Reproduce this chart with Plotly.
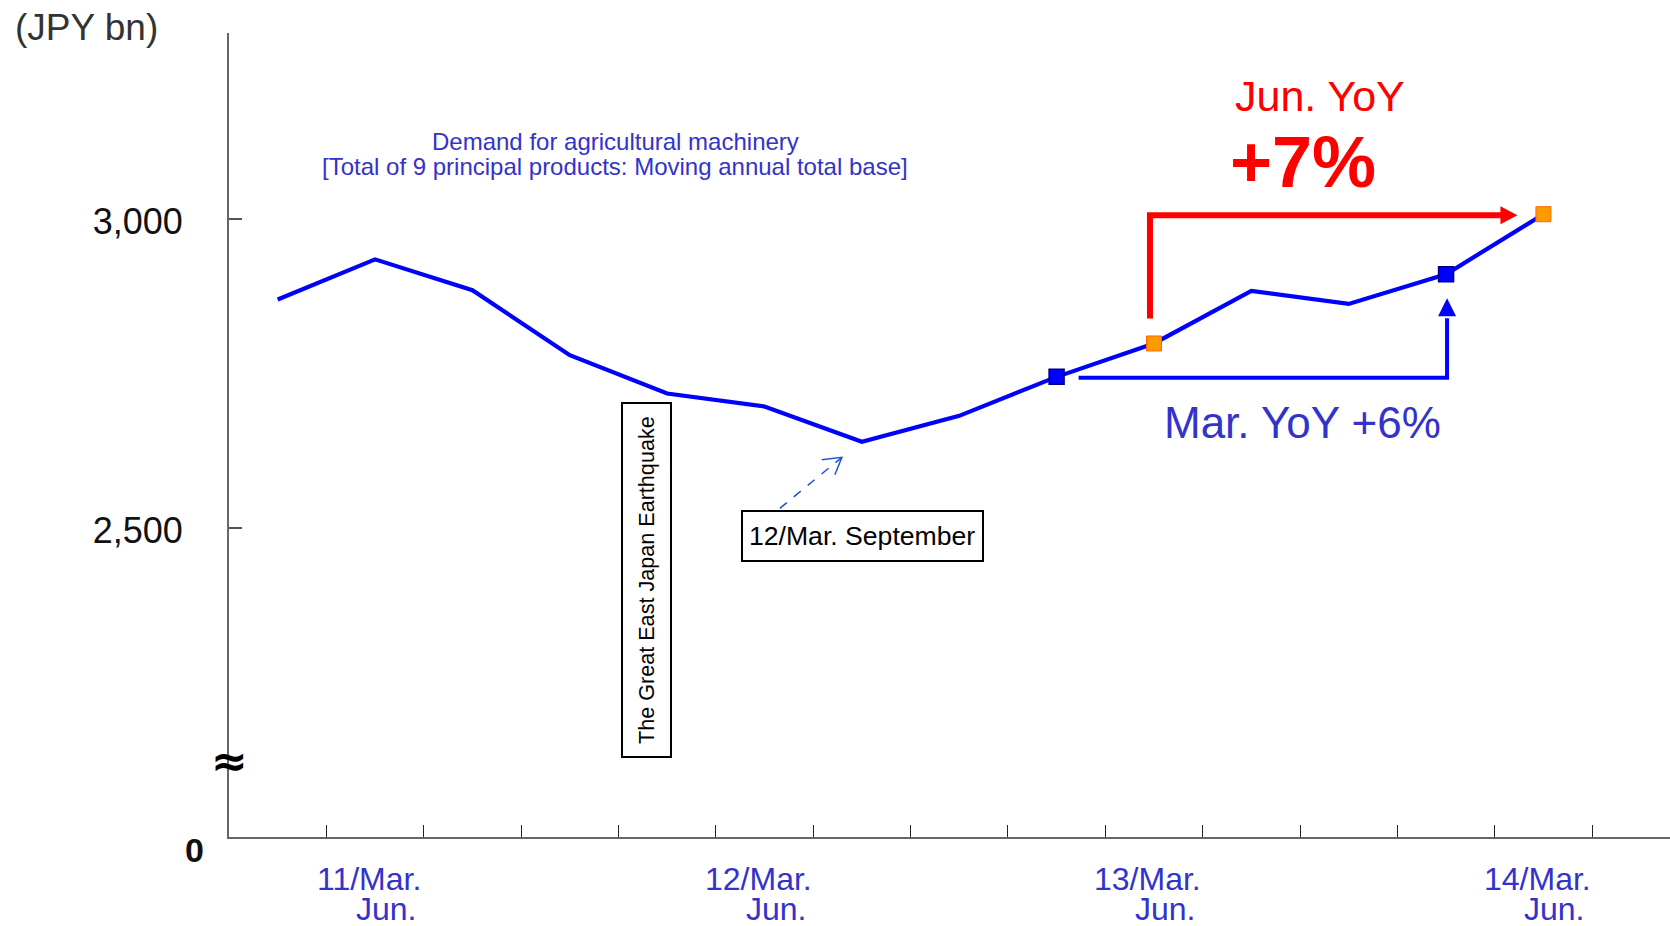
import plotly.graph_objects as go

# Demand for agricultural machinery, moving annual total (JPY bn), quarterly
quarters = ["11/Mar", "11/Jun", "11/Sep", "11/Dec",
            "12/Mar", "12/Jun", "12/Sep", "12/Dec",
            "13/Mar", "13/Jun", "13/Sep", "13/Dec",
            "14/Mar", "14/Jun"]
demand = [2869, 2934, 2884, 2779, 2717, 2696, 2639, 2681,
          2744, 2798, 2883, 2862, 2910, 3007]
year_labels = ["11", "12", "13", "14"]
y_tick_vals = [2000, 2500, 3000]
y_tick_text = ["", "2,500", "3,000"]
mar_points = [8, 12]      # 13/Mar, 14/Mar
jun_points = [9, 13]      # 13/Jun, 14/Jun
low_point = 6             # 12/Sep

FONT = "Liberation Sans, Arial, sans-serif"
BLUE_TXT = "#3333CC"
W, H = 1670, 926
L, T, B = 229, 33, 89
PW, PH = W - L, H - T - B
X_RANGE = [0, 14.8]
Y_RANGE = [2000, 3300]
XPX = PW / (X_RANGE[1] - X_RANGE[0])
YPX = PH / (Y_RANGE[1] - Y_RANGE[0])
PLOT_BOTTOM = H - B

pos = [i + 0.5 for i in range(len(quarters))]


def xp(px):
    return (px - L) / PW


def yp(py):
    return (PLOT_BOTTOM - py) / PH


def at(i, ox=0.0, oy=0.0):
    """Point i shifted by ox px right and oy px down, in data units."""
    return pos[i] + ox / XPX, demand[i] - oy / YPX


fig = go.Figure()

fig.add_trace(go.Scatter(
    x=pos, y=demand, mode="lines",
    line=dict(color="#0000FF", width=4.2),
    hoverinfo="skip",
))
fig.add_trace(go.Scatter(
    x=[pos[i] for i in mar_points], y=[demand[i] for i in mar_points],
    mode="markers",
    marker=dict(symbol="square", size=15, color="#0000FF",
                line=dict(color="#000080", width=1.5)),
))
fig.add_trace(go.Scatter(
    x=[pos[i] for i in jun_points], y=[demand[i] for i in jun_points],
    mode="markers",
    marker=dict(symbol="square", size=15, color="#FF9900",
                line=dict(color="#FF6600", width=1)),
))

shapes = []

# Red bracket: 13/Jun -> 14/Jun
j0, j1 = jun_points
rx, rbot = at(j0, -4, -25)
_, rtop = at(j1, 0, 1)
r_base, _ = at(j1, -43, 0)
r_tip, _ = at(j1, -26, 0)
shapes.append(dict(type="path", xref="x", yref="y",
                   path=f"M{rx},{rbot} L{rx},{rtop} L{r_base + 2 / XPX},{rtop}",
                   line=dict(color="#FF0000", width=6)))
shapes.append(dict(type="path", xref="x", yref="y",
                   path=(f"M{r_base},{rtop + 9 / YPX} L{r_tip},{rtop} "
                         f"L{r_base},{rtop - 9 / YPX} Z"),
                   fillcolor="#FF0000", line=dict(width=0)))

# Blue bracket: 13/Mar -> 14/Mar
m0, m1 = mar_points
bx0, by = at(m0, 22, 1)
bx1, _ = at(m1, 1, 0)
_, b_base = at(m1, 0, 42)
_, b_tip = at(m1, 0, 24)
shapes.append(dict(type="path", xref="x", yref="y",
                   path=f"M{bx0},{by} L{bx1},{by} L{bx1},{b_base - 2 / YPX}",
                   line=dict(color="#0000FF", width=4)))
shapes.append(dict(type="path", xref="x", yref="y",
                   path=(f"M{bx1 - 9 / XPX},{b_base} L{bx1},{b_tip} "
                         f"L{bx1 + 9 / XPX},{b_base} Z"),
                   fillcolor="#0000FF", line=dict(width=0)))

# Dashed pointer to the 12/Sep trough
sx, sy = at(low_point, -82, 66.5)
tx, ty = at(low_point, -20, 15.5)
a1x, a1y = at(low_point, -40, 18)
a2x, a2y = at(low_point, -27, 33)
shapes.append(dict(type="line", xref="x", yref="y", x0=sx, y0=sy, x1=tx, y1=ty,
                   line=dict(color="#2050E0", width=1.5, dash="dash")))
shapes.append(dict(type="path", xref="x", yref="y",
                   path=f"M{a1x},{a1y} L{tx},{ty} L{a2x},{a2y}",
                   line=dict(color="#2050E0", width=1.5)))

# Boxes around the two notes
shapes.append(dict(type="rect", xref="paper", yref="paper",
                   x0=xp(622), x1=xp(671), y0=yp(757), y1=yp(403),
                   line=dict(color="#000000", width=2), fillcolor="rgba(0,0,0,0)"))
shapes.append(dict(type="rect", xref="paper", yref="paper",
                   x0=xp(742), x1=xp(983), y0=yp(561), y1=yp(511),
                   line=dict(color="#000000", width=2), fillcolor="rgba(0,0,0,0)"))

annotations = []


def text(px, py, s, size, color, **kw):
    annotations.append(dict(
        x=xp(px), y=yp(py), xref="paper", yref="paper", text=s,
        showarrow=False, xanchor=kw.pop("xanchor", "center"),
        yanchor=kw.pop("yanchor", "middle"),
        font=dict(family=kw.pop("family", FONT), size=size, color=color), **kw))


text(13, 27, "(JPY bn)", 37, "#333333", xanchor="left")
text(194, 850, "<b>0</b>", 34, "#111111")
text(229, 760, "<b>≈</b>", 44, "#000000", family="DejaVu Sans, sans-serif")

text(615, 142, "Demand for agricultural machinery", 24, BLUE_TXT)
text(615, 167, "[Total of 9 principal products: Moving annual total base]", 24, BLUE_TXT)

text(1320, 96, "Jun. YoY", 43, "#FF0000")
text(1303, 162, "<b>+7%</b>", 72, "#FF0000")
text(1302, 422, "Mar. YoY +6%", 44, BLUE_TXT)

text(646, 580, "The Great East Japan Earthquake", 21.6, "#000000", textangle=-90)
text(862, 536, "12/Mar. September", 26.6, "#000000")

# Year labels under the axis, centred around each year's June point
for k, yr in enumerate(year_labels):
    jx = L + (pos[4 * k + 1] - X_RANGE[0]) * XPX
    text(jx - 6, 879, f"{yr}/Mar.", 32, BLUE_TXT)
    text(jx + 11, 909, "Jun.", 32, BLUE_TXT)

fig.update_layout(
    width=W, height=H,
    margin=dict(l=L, r=0, t=T, b=B, pad=0),
    paper_bgcolor="white", plot_bgcolor="white",
    showlegend=False,
    shapes=shapes, annotations=annotations,
    xaxis=dict(range=X_RANGE, showgrid=False, zeroline=False,
               showline=True, linecolor="#666666", linewidth=2,
               ticks="inside", tickvals=list(range(1, len(quarters) + 1)),
               ticklen=12, tickwidth=1.3, tickcolor="#222222",
               showticklabels=False),
    yaxis=dict(range=Y_RANGE, showgrid=False, zeroline=False,
               showline=True, linecolor="#666666", linewidth=2,
               ticks="inside", tickvals=y_tick_vals, ticktext=y_tick_text,
               ticklen=13, tickwidth=1.5, tickcolor="#555555",
               tickfont=dict(family=FONT, size=36, color="#111111"),
               ticklabelstandoff=37, ticklabelshift=3),
)

fig.write_html("out.html")
